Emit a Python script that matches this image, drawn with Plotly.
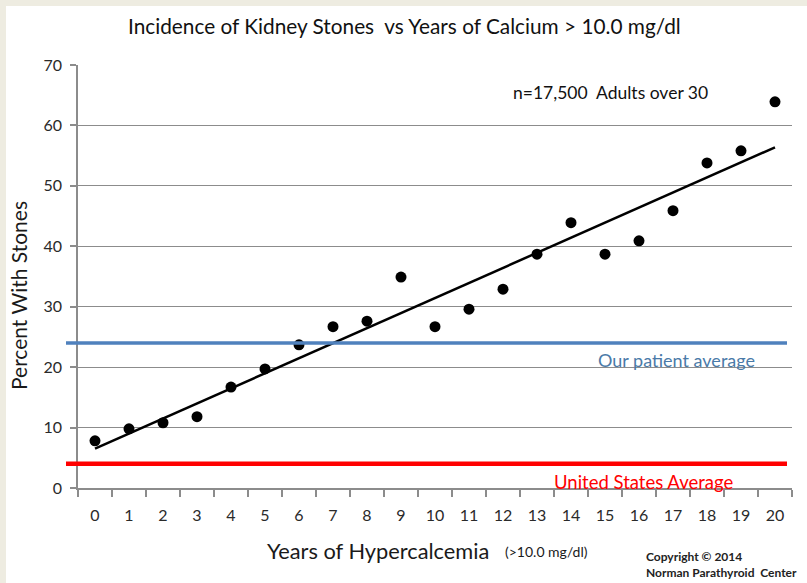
import numpy as np
import plotly.graph_objects as go

# ---- data ----
years = list(range(0, 21))
pct_with_stones = [7.8, 9.8, 10.8, 11.8, 16.7, 19.7, 23.7, 26.7, 27.6, 34.9,
                   26.7, 29.6, 32.9, 38.7, 43.9, 38.7, 40.9, 45.9, 53.8, 55.8, 63.9]
patient_average = [24]
us_average = [4]
x_tick_labels = [str(y) for y in years]
y_ticks = [0, 10, 20, 30, 40, 50, 60, 70]

FONT = "Lato, 'Open Sans', sans-serif"
BEIGE = "#EEECE1"
GRID = "#8C8C8C"

# linear trend (computed from the data, like Excel's trendline)
slope, intercept = np.polyfit(years, pct_with_stones, 1)
trend = [slope * x + intercept for x in years]

fig = go.Figure()
fig.add_trace(go.Scatter(x=years, y=trend, mode="lines",
                         line=dict(color="black", width=2.5),
                         hoverinfo="skip", showlegend=False))
fig.add_trace(go.Scatter(x=years, y=pct_with_stones, mode="markers",
                         marker=dict(color="black", size=11),
                         showlegend=False))

L, R, T, B = 78, 15, 65, 95
W, H = 807, 583
pw, ph = W - L - R, H - T - B


def px(x):
    return (x - L) / pw


def py(y):
    return (H - B - y) / ph


shapes = [
    # beige frame strips (left & top)
    dict(type="rect", xref="paper", yref="paper", x0=px(0), x1=px(6), y0=py(H), y1=py(0),
         fillcolor=BEIGE, line=dict(width=0), layer="above"),
    dict(type="rect", xref="paper", yref="paper", x0=px(0), x1=px(W), y0=py(6), y1=py(0),
         fillcolor=BEIGE, line=dict(width=0), layer="above"),
    # reference lines
    dict(type="line", xref="paper", yref="y", x0=px(66), x1=px(787),
         y0=patient_average[0], y1=patient_average[0],
         line=dict(color="#4F81BD", width=3.5), layer="above"),
    dict(type="line", xref="paper", yref="y", x0=px(66), x1=px(787),
         y0=us_average[0], y1=us_average[0],
         line=dict(color="#FF0000", width=4.5), layer="above"),
]

annotations = [
    dict(text="Incidence of Kidney Stones  vs Years of Calcium > 10.0 mg/dl",
         x=px(404), y=py(26), xref="paper", yref="paper", showarrow=False,
         xanchor="center", yanchor="middle", font=dict(size=20.8, color="#111", family=FONT)),
    dict(text="Percent With Stones", textangle=-90,
         x=px(18), y=py(296), xref="paper", yref="paper", showarrow=False,
         xanchor="center", yanchor="middle", font=dict(size=21, color="#1a1a1a", family=FONT)),
    dict(text="Years of Hypercalcemia",
         x=px(265), y=py(550), xref="paper", yref="paper", showarrow=False,
         xanchor="left", yanchor="middle", font=dict(size=21.8, color="#1a1a1a", family=FONT)),
    dict(text="(>10.0 mg/dl)",
         x=px(503), y=py(551), xref="paper", yref="paper", showarrow=False,
         xanchor="left", yanchor="middle", font=dict(size=14, color="#1a1a1a", family=FONT)),
    dict(text="n=17,500  Adults over 30",
         x=px(511), y=py(92), xref="paper", yref="paper", showarrow=False,
         xanchor="left", yanchor="middle", font=dict(size=17.5, color="#111", family=FONT)),
    dict(text="Our patient average",
         x=px(676), y=py(360), xref="paper", yref="paper", showarrow=False,
         xanchor="center", yanchor="middle", font=dict(size=18, color="#4A7AA8", family=FONT)),
    dict(text="United States Average",
         x=px(643), y=py(482), xref="paper", yref="paper", showarrow=False,
         xanchor="center", yanchor="middle", font=dict(size=18.5, color="#FF0000", family=FONT)),
    dict(text="<b>Copyright © 2014</b>",
         x=px(644), y=py(556), xref="paper", yref="paper", showarrow=False,
         xanchor="left", yanchor="middle", font=dict(size=12, color="#222", family=FONT)),
    dict(text="<b>Norman Parathyroid  Center</b>",
         x=px(644), y=py(572), xref="paper", yref="paper", showarrow=False,
         xanchor="left", yanchor="middle", font=dict(size=12, color="#222", family=FONT)),
]

fig.update_layout(
    width=W, height=H,
    margin=dict(l=L, r=R, t=T, b=B, pad=0),
    paper_bgcolor="white", plot_bgcolor="white",
    shapes=shapes, annotations=annotations,
    font=dict(family=FONT, size=16, color="#333"),
    xaxis=dict(range=[-0.5, 20.5], tickmode="array", tickvals=years, ticktext=x_tick_labels,
               ticks="", showgrid=False, zeroline=False, showline=True,
               linecolor=GRID, linewidth=1.5, ticklabelstandoff=12,
               minor=dict(tick0=-0.5, dtick=1, ticks="outside", ticklen=7,
                          tickcolor=GRID, tickwidth=1.5, showgrid=False),
               tickfont=dict(size=16, color="#2a2a2a", family=FONT), fixedrange=True),
    yaxis=dict(range=[0, 70], tickmode="array", tickvals=y_ticks,
               ticks="outside", ticklen=6, tickcolor=GRID, tickwidth=1.5,
               showgrid=True, gridcolor=GRID, gridwidth=1, zeroline=False,
               showline=True, linecolor=GRID, linewidth=1.5, ticklabelstandoff=5,
               tickfont=dict(size=16, color="#2a2a2a", family=FONT), fixedrange=True),
)

fig.write_html("out.html", config={"displayModeBar": False},
               post_script="document.body.style.margin='0';")
